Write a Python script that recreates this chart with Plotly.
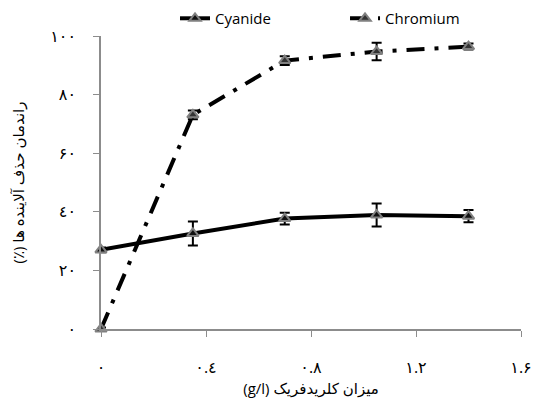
import plotly.graph_objects as go

x_vals = [0, 0.35, 0.7, 1.05, 1.4]
cyanide = [27, 32.6, 37.7, 38.9, 38.5]
cyanide_err = [0.8, 4.1, 2.0, 3.9, 2.1]
chromium = [0, 73.1, 91.6, 94.7, 96.4]
chromium_err = [0.5, 1.5, 1.5, 3.0, 1.0]

x_tickvals = [0, 0.4, 0.8, 1.2, 1.6]
x_ticktext = ["۰", "۰.٤", "۰.۸", "۱.۲", "۱.۶"]
y_tickvals = [0, 20, 40, 60, 80, 100]
y_ticktext = ["۰", "۲۰", "٤۰", "۶۰", "۸۰", "۱۰۰"]

x_title = "\u202bمیزان کلریدفریک (g/l)\u202c"
y_title = "\u202bراندمان حذف آلاینده ها (٪)\u202c"

font_family = "Open Sans, DejaVu Sans, sans-serif"

fig = go.Figure()
fig.add_trace(go.Scatter(
    x=x_vals, y=cyanide, name="Cyanide", mode="lines+markers",
    line=dict(color="black", width=4),
    marker=dict(symbol="triangle-up", size=10, color="#111111",
                line=dict(color="#808080", width=2)),
    error_y=dict(type="data", array=cyanide_err, color="black", thickness=2, width=5),
    cliponaxis=False,
))
fig.add_trace(go.Scatter(
    x=x_vals, y=chromium, name="Chromium", mode="lines+markers",
    line=dict(color="black", width=4, dash="18px,10px,4px,10px"),
    marker=dict(symbol="triangle-up", size=10, color="#333333",
                line=dict(color="#808080", width=2)),
    error_y=dict(type="data", array=chromium_err, color="black", thickness=2, width=5),
    cliponaxis=False,
))

fig.update_layout(
    width=533, height=408,
    margin=dict(l=101, r=12, t=36, b=79, autoexpand=False),
    paper_bgcolor="white", plot_bgcolor="white",
    font=dict(family=font_family, size=15, color="black"),
    showlegend=True,
    legend=dict(orientation="h", x=0.581, xanchor="center", yref="container",
                y=0.995, yanchor="top", entrywidth=125,
                font=dict(size=15), bgcolor="rgba(0,0,0,0)"),
    xaxis=dict(range=[0, 1.6], tickvals=x_tickvals, ticktext=x_ticktext,
               showgrid=False, zeroline=False, showline=True, linecolor="#8c8c8c",
               linewidth=1.5, ticks="outside", ticklen=6, tickcolor="#8c8c8c",
               tickfont=dict(size=16), ticklabelstandoff=17,
               title=dict(text=x_title, font=dict(size=15), standoff=6)),
    yaxis=dict(range=[0, 100], tickvals=y_tickvals, ticktext=y_ticktext,
               showgrid=False, zeroline=False, showline=True, linecolor="#8c8c8c",
               linewidth=1.5, ticks="outside", ticklen=6, tickcolor="#8c8c8c",
               tickfont=dict(size=16), ticklabelstandoff=14,
               title=dict(text=y_title, font=dict(size=15), standoff=22)),
)

fig.write_html("out.html", config={"displayModeBar": False},
               post_script="document.body.style.margin='0';document.body.style.overflow='hidden';")
